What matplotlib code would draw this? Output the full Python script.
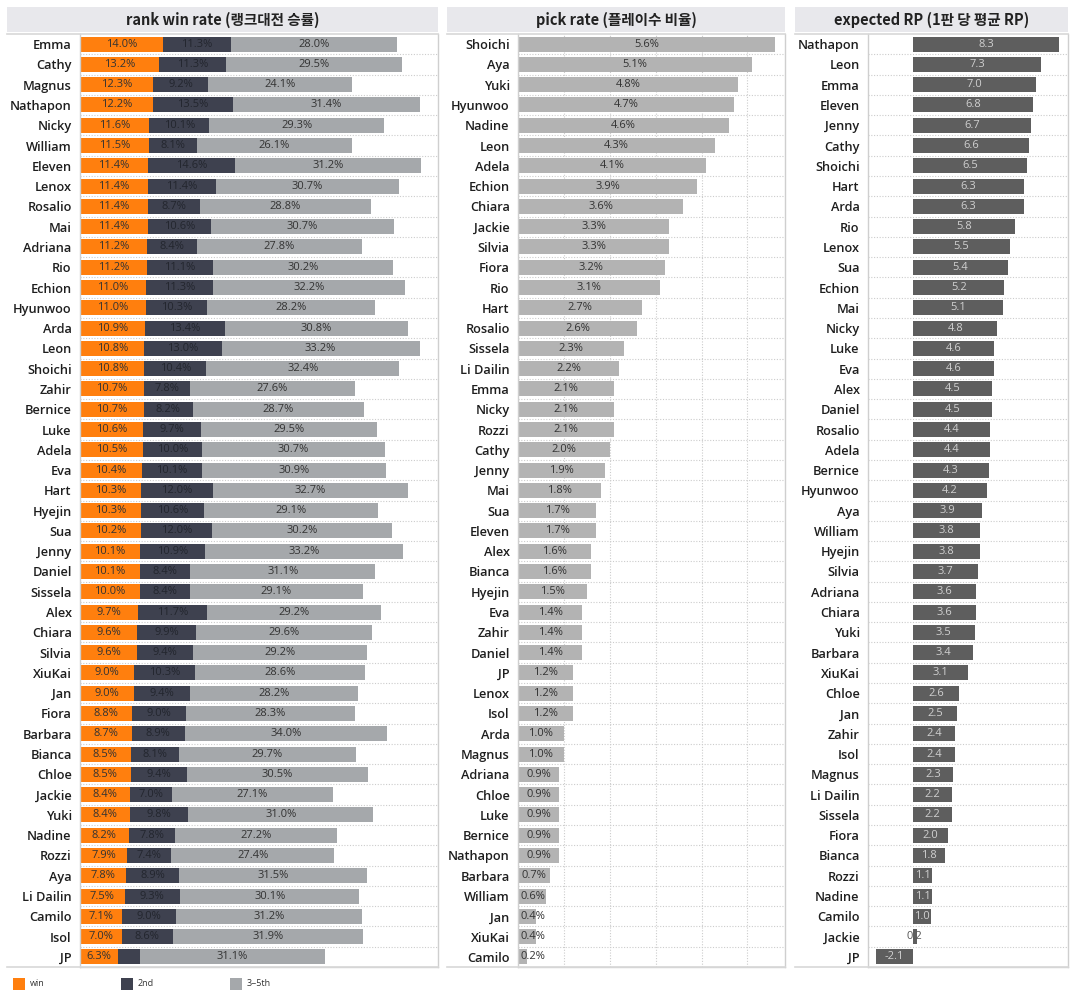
import numpy as np
import matplotlib.pyplot as plt
from matplotlib.patches import Rectangle
from matplotlib.lines import Line2D

# --- data ---
win_names = ['Emma', 'Cathy', 'Magnus', 'Nathapon', 'Nicky', 'William', 'Eleven', 'Lenox',
             'Rosalio', 'Mai', 'Adriana', 'Rio', 'Echion', 'Hyunwoo', 'Arda', 'Leon',
             'Shoichi', 'Zahir', 'Bernice', 'Luke', 'Adela', 'Eva', 'Hart', 'Hyejin', 'Sua',
             'Jenny', 'Daniel', 'Sissela', 'Alex', 'Chiara', 'Silvia', 'XiuKai', 'Jan',
             'Fiora', 'Barbara', 'Bianca', 'Chloe', 'Jackie', 'Yuki', 'Nadine', 'Rozzi',
             'Aya', 'Li Dailin', 'Camilo', 'Isol', 'JP']
win_1st = [14.0, 13.2, 12.3, 12.2, 11.6, 11.5, 11.4, 11.4, 11.4, 11.4, 11.2, 11.2, 11.0, 11.0,
           10.9, 10.8, 10.8, 10.7, 10.7, 10.6, 10.5, 10.4, 10.3, 10.3, 10.2, 10.1, 10.1, 10.0,
           9.7, 9.6, 9.6, 9.0, 9.0, 8.8, 8.7, 8.5, 8.5, 8.4, 8.4, 8.2, 7.9, 7.8, 7.5, 7.1,
           7.0, 6.3]
win_2nd = [11.3, 11.3, 9.2, 13.5, 10.1, 8.1, 14.6, 11.4, 8.7, 10.6, 8.4, 11.1, 11.3, 10.3,
           13.4, 13.0, 10.4, 7.8, 8.2, 9.7, 10.0, 10.1, 12.0, 10.6, 12.0, 10.9, 8.4, 8.4,
           11.7, 9.9, 9.4, 10.3, 9.4, 9.0, 8.9, 8.1, 9.4, 7.0, 9.8, 7.8, 7.4, 8.9, 9.3, 9.0,
           8.6, 3.7]
win_3to5 = [28.0, 29.5, 24.1, 31.4, 29.3, 26.1, 31.2, 30.7, 28.8, 30.7, 27.8, 30.2, 32.2,
            28.2, 30.8, 33.2, 32.4, 27.6, 28.7, 29.5, 30.7, 30.9, 32.7, 29.1, 30.2, 33.2,
            31.1, 29.1, 29.2, 29.6, 29.2, 28.6, 28.2, 28.3, 34.0, 29.7, 30.5, 27.1, 31.0,
            27.2, 27.4, 31.5, 30.1, 31.2, 31.9, 31.1]

pick_names = ['Shoichi', 'Aya', 'Yuki', 'Hyunwoo', 'Nadine', 'Leon', 'Adela', 'Echion',
              'Chiara', 'Jackie', 'Silvia', 'Fiora', 'Rio', 'Hart', 'Rosalio', 'Sissela',
              'Li Dailin', 'Emma', 'Nicky', 'Rozzi', 'Cathy', 'Jenny', 'Mai', 'Sua', 'Eleven',
              'Alex', 'Bianca', 'Hyejin', 'Eva', 'Zahir', 'Daniel', 'JP', 'Lenox', 'Isol',
              'Arda', 'Magnus', 'Adriana', 'Chloe', 'Luke', 'Bernice', 'Nathapon', 'Barbara',
              'William', 'Jan', 'XiuKai', 'Camilo']
pick_rate = [5.6, 5.1, 4.8, 4.7, 4.6, 4.3, 4.1, 3.9, 3.6, 3.3, 3.3, 3.2, 3.1, 2.7, 2.6, 2.3,
             2.2, 2.1, 2.1, 2.1, 2.0, 1.9, 1.8, 1.7, 1.7, 1.6, 1.6, 1.5, 1.4, 1.4, 1.4, 1.2,
             1.2, 1.2, 1.0, 1.0, 0.9, 0.9, 0.9, 0.9, 0.9, 0.7, 0.6, 0.4, 0.4, 0.2]

rp_names = ['Nathapon', 'Leon', 'Emma', 'Eleven', 'Jenny', 'Cathy', 'Shoichi', 'Hart', 'Arda',
            'Rio', 'Lenox', 'Sua', 'Echion', 'Mai', 'Nicky', 'Luke', 'Eva', 'Alex', 'Daniel',
            'Rosalio', 'Adela', 'Bernice', 'Hyunwoo', 'Aya', 'William', 'Hyejin', 'Silvia',
            'Adriana', 'Chiara', 'Yuki', 'Barbara', 'XiuKai', 'Chloe', 'Jan', 'Zahir', 'Isol',
            'Magnus', 'Li Dailin', 'Sissela', 'Fiora', 'Bianca', 'Rozzi', 'Nadine', 'Camilo',
            'Jackie', 'JP']
rp_value = [8.3, 7.3, 7.0, 6.8, 6.7, 6.6, 6.5, 6.3, 6.3, 5.8, 5.5, 5.4, 5.2, 5.1, 4.8, 4.6,
            4.6, 4.5, 4.5, 4.4, 4.4, 4.3, 4.2, 3.9, 3.8, 3.8, 3.7, 3.6, 3.6, 3.5, 3.4, 3.1,
            2.6, 2.5, 2.4, 2.4, 2.3, 2.2, 2.2, 2.0, 1.8, 1.1, 1.1, 1.0, 0.2, -2.1]

titles = ['rank win rate (랭크대전 승률)', 'pick rate (플레이수 비율)', 'expected RP (1판 당 평균 RP)']
legend_labels = ['win', '2nd', '3~5th']

ORANGE = '#ff7f0e'
DARK = '#3e414f'
GREY = '#a5a8ab'
PICK = '#b3b3b3'
RP = '#5e5e5e'
LINE = '#cfcfcf'
KR = ['Noto Sans CJK KR', 'DejaVu Sans']

W, H = 1080, 1008
fig = plt.figure(figsize=(W / 100, H / 100), dpi=100)
fig.patch.set_facecolor('white')

def fx(px):
    return px / W

def fy(py):
    return 1 - py / H

top, bottom = 34, 967
panels = [(7, 80, 438), (447, 518, 785), (795, 868, 1068)]
xlims = [(0, 60.1), (0, 5.82), (-2.56, 8.81)]

axes = []
for (outer, left, right), title, xl in zip(panels, titles, xlims):
    ax = fig.add_axes([fx(left), fy(bottom), fx(right - left), fy(top) - fy(bottom)])
    ax.set_xlim(*xl)
    ax.set_ylim(45.5, -0.5)
    ax.set_xticks([])
    ax.spines['top'].set_visible(False)
    for s in ['left', 'right', 'bottom']:
        ax.spines[s].set_color(LINE)
        ax.spines[s].set_linewidth(1.0)
    ax.tick_params(axis='y', length=0, pad=6)
    for yy in np.arange(0.5, 45.5, 1):
        ax.axhline(yy, color='#cccccc', lw=0.8, ls=(0, (1, 1.5)), zorder=0)
    # header box
    fig.patches.append(Rectangle((fx(outer), fy(32)), fx(right - outer), fy(7) - fy(32),
                                 transform=fig.transFigure, facecolor='#e8e8ec',
                                 edgecolor='none', zorder=0))
    fig.text(fx((outer + right) / 2), fy(19.5), title, ha='center', va='center',
             fontsize=10.5, fontweight='bold', family=KR, color='#222222')
    fig.lines.append(Line2D([fx(outer), fx(right)], [fy(33.5), fy(33.5)],
                            transform=fig.transFigure, color='#d8d8d8', lw=1.2))
    fig.lines.append(Line2D([fx(outer), fx(right)], [fy(bottom), fy(bottom)],
                            transform=fig.transFigure, color='#d8d8d8', lw=1.2))
    axes.append(ax)

label_font = dict(fontsize=9.2, fontweight='semibold', family='Open Sans', color='#1e1e1e')
val_font = dict(fontsize=8, family='Open Sans')

# panel 1: stacked win rate
ax = axes[0]
y = np.arange(len(win_names))
w1 = np.array(win_1st)
w2 = np.array(win_2nd)
w3 = np.array(win_3to5)
ax.barh(y, w1, height=0.74, color=ORANGE, zorder=2)
ax.barh(y, w2, left=w1, height=0.74, color=DARK, zorder=2)
ax.barh(y, w3, left=w1 + w2, height=0.74, color=GREY, zorder=2)
for i in range(len(y)):
    ax.text(w1[i] / 2, i, f'{w1[i]:.1f}%', ha='center', va='center', color='#333333', **val_font)
    if w2[i] >= 5:
        ax.text(w1[i] + w2[i] / 2, i, f'{w2[i]:.1f}%', ha='center', va='center',
                color='#23262e', **val_font)
    ax.text(w1[i] + w2[i] + w3[i] / 2, i, f'{w3[i]:.1f}%', ha='center', va='center',
            color='#333333', **val_font)
ax.set_yticks(y)
ax.set_yticklabels(win_names, **label_font)

# panel 2: pick rate
ax = axes[1]
y = np.arange(len(pick_names))
for gx in range(1, 6):
    ax.axvline(gx, color='#cccccc', lw=0.8, ls=(0, (1, 1.5)), zorder=0)
ax.barh(y, pick_rate, height=0.74, color=PICK, zorder=2)
for i, v in enumerate(pick_rate):
    ax.text(max(v / 2, 0.32), i, f'{v:.1f}%', ha='center', va='center', color='#333333',
            **val_font)
ax.set_yticks(y)
ax.set_yticklabels(pick_names, **label_font)

# panel 3: expected RP
ax = axes[2]
y = np.arange(len(rp_names))
ax.barh(y, rp_value, height=0.74, color=RP, zorder=2)
for i, v in enumerate(rp_value):
    col = '#555555' if abs(v) < 0.5 else '#d0d0d0'
    ax.text(v / 2 if abs(v) >= 0.5 else 0.05, i, f'{v:.1f}', ha='center', va='center',
            color=col, zorder=3, **val_font)
ax.set_yticks(y)
ax.set_yticklabels(rp_names, **label_font)

# legend at the bottom
for (px, col), lab in zip([(13, ORANGE), (121, DARK), (230, GREY)], legend_labels):
    fig.patches.append(Rectangle((fx(px), fy(990)), fx(12), fy(978) - fy(990),
                                 transform=fig.transFigure, facecolor=col, edgecolor='none'))
    fig.text(fx(px + 17), fy(984), lab, ha='left', va='center', fontsize=6.5,
             family='Open Sans', color='#333333')

fig.savefig('out.png', dpi=100, facecolor='white')
